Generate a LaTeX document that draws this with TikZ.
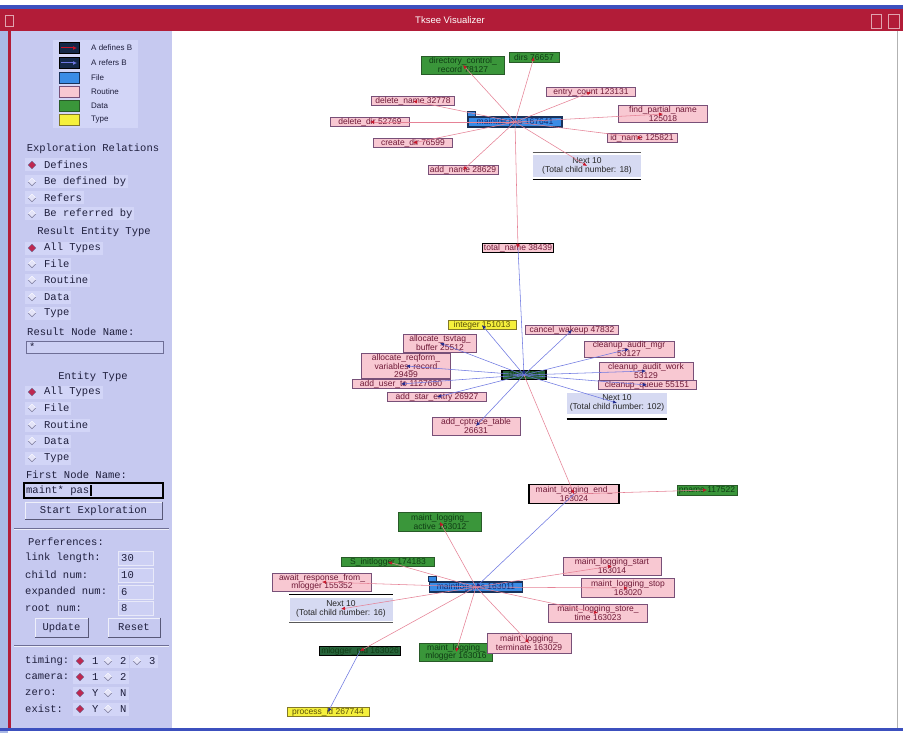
\documentclass[tikz,border=0pt]{standalone}
\usepackage{fontspec}
\setmainfont{Liberation Sans}
\newfontfamily\panelfont{Liberation Mono}
\usetikzlibrary{arrows.meta}

\definecolor{titlered}{RGB}{178,28,56}
\definecolor{frameblue}{RGB}{60,80,190}
\definecolor{framelight}{RGB}{170,185,230}
\definecolor{panelbg}{RGB}{198,201,240}
\definecolor{rowfill}{RGB}{210,213,247}
\definecolor{paneltext}{RGB}{30,30,60}
\definecolor{fieldfill}{RGB}{205,208,244}
\definecolor{radiored}{RGB}{190,40,80}
\definecolor{radiooff}{RGB}{228,228,248}
\definecolor{radioedge}{RGB}{110,110,150}
\definecolor{routinefill}{RGB}{248,200,210}
\definecolor{routineedge}{RGB}{120,80,120}
\definecolor{routinetext}{RGB}{110,25,55}
\definecolor{filefill}{RGB}{58,140,230}
\definecolor{fileedge}{RGB}{25,50,90}
\definecolor{filetext}{RGB}{20,40,110}
\definecolor{datafill}{RGB}{58,150,58}
\definecolor{dataedge}{RGB}{40,90,40}
\definecolor{datatext}{RGB}{15,60,20}
\definecolor{darkdata}{RGB}{40,100,60}
\definecolor{typefill}{RGB}{245,240,60}
\definecolor{typeedge}{RGB}{130,120,40}
\definecolor{typetext}{RGB}{90,80,10}
\definecolor{nextfill}{RGB}{214,218,242}
\definecolor{defline}{RGB}{230,130,150}
\definecolor{refline}{RGB}{110,120,225}
\definecolor{defdot}{RGB}{200,20,40}
\definecolor{refdot}{RGB}{30,40,140}

\newcommand\gn[6]{\node[#1,minimum width=#4pt,minimum height=#5pt] (#2) at (#3) {#6};}
\newcommand\radiorow[5]{%
  \node[rowitem,anchor=west] (#1) at (#2,#3) {\hspace{17pt}#5};
  \pic at (#2+7,#3) {#4};}

\begin{document}
\begin{tikzpicture}[x=1pt,y=-1pt,
  gbase/.style={draw=routineedge,line width=0.7pt,inner xsep=1.5pt,inner ysep=0.3pt,
    font=\fontsize{8.5}{8.3}\selectfont,align=center},
  routine/.style={gbase,fill=routinefill,text=routinetext},
  routinesel/.style={routine,draw=black,line width=1.3pt},
  filenode/.style={gbase,fill=filefill,draw=fileedge,line width=1.2pt,text=filetext},
  filetab/.style={fill=filefill,draw=fileedge,line width=1pt},
  datanode/.style={gbase,fill=datafill,draw=dataedge,text=datatext},
  datasel/.style={gbase,fill=darkdata,draw=black,line width=1.3pt,text=datatext},
  typenode/.style={gbase,fill=typefill,draw=typeedge,text=typetext},
  nextbox/.style={gbase,fill=nextfill,draw=none,text=black!85},
  defedge/.style={draw=defline,line width=0.55pt,-{Latex[length=4pt,width=3.5pt,color=defdot]}},
  refedge/.style={draw=refline,line width=0.55pt,-{Latex[length=4pt,width=3.5pt,color=refdot]}},
  paneltxt/.style={font=\panelfont\fontsize{10.5}{12}\selectfont,text=paneltext,inner sep=0pt},
  rowitem/.style={paneltxt,fill=rowfill,inner xsep=2pt,inner ysep=1.5pt,minimum height=13pt},
  legtxt/.style={font=\fontsize{8}{9}\selectfont,text=paneltext,inner sep=0pt,anchor=west},
  legicon/.style={minimum width=20pt,minimum height=11pt,inner sep=0pt,line width=0.8pt},
  button/.style={paneltxt,fill=panelbg,draw=white!70!panelbg,line width=1pt},
  beveldark/.style={draw=radioedge!80!black,line width=1pt},
  prefield/.style={fill=fieldfill,draw=white!60!panelbg,line width=1pt},
  radioon/.pic={\path[fill=radiored,draw=radioedge,line width=0.4pt]
     (0,-3.8)--(3.8,0)--(0,3.8)--(-3.8,0)--cycle;},
  radiooff/.pic={\path[fill=radiooff,draw=white,line width=0.4pt]
     (0,-3.8)--(3.8,0)--(0,3.8)--(-3.8,0)--cycle;
     \draw[radioedge,line width=0.6pt] (-3.8,0)--(0,3.8)--(3.8,0);},
]
\useasboundingbox (0,0) rectangle (903,733);

% window frame and title bar
\fill[white] (0,0) rectangle (903,733);
\fill[titlered] (0,9) rectangle (903,31);
\fill[frameblue] (0,5) rectangle (903,9);
\fill[framelight] (0,31) rectangle (8,733);
\fill[titlered] (8,31) rectangle (11,729);
\fill[panelbg] (11,31) rectangle (172,728);
\fill[white] (172,31) rectangle (897,728);
\draw[gray!60,line width=0.8pt] (897,31) -- (897,728);
\fill[frameblue] (0,728) rectangle (903,731);
\draw[white!60!titlered,line width=0.6pt] (5,15) rectangle (13,26);
\draw[white!60!titlered,line width=0.6pt] (871,14) rectangle (881,28);
\draw[white!60!titlered,line width=0.6pt] (888,14) rectangle (899,28);
\node[font=\fontsize{9.5}{10}\selectfont,text=white] (title) at (450,20) {Tksee Visualizer};

% legend
\fill[rowfill] (53,40) rectangle (138,128);
\node[legicon,fill=fileedge!80!black,draw=black] (lg1) at (69,48) {};
\draw[defdot,line width=1pt,-{Latex[length=4pt,width=4pt]}] (61,48) -- (77,48);
\node[legtxt] (lt1) at (91,48) {A defines B};
\node[legicon,fill=fileedge!80!black,draw=black] (lg2) at (69,63) {};
\draw[refline,line width=1pt,-{Latex[length=4pt,width=4pt]}] (61,63) -- (77,63);
\node[legtxt] (lt2) at (91,63) {A refers B};
\node[legicon,fill=filefill,draw=fileedge] (lg3) at (69,78) {};
\node[legtxt] (lt3) at (91,78) {File};
\node[legicon,fill=routinefill,draw=routineedge] (lg4) at (69,92) {};
\node[legtxt] (lt4) at (91,92) {Routine};
\node[legicon,fill=datafill,draw=dataedge] (lg5) at (69,106) {};
\node[legtxt] (lt5) at (91,106) {Data};
\node[legicon,fill=typefill,draw=typeedge] (lg6) at (69,120) {};
\node[legtxt] (lt6) at (91,120) {Type};

% exploration relations
\node[paneltxt] (hrel) at (93,149) {Exploration Relations};
\radiorow{rr1}{25}{165}{radioon}{Defines}
\radiorow{rr2}{25}{182}{radiooff}{Be defined by}
\radiorow{rr3}{25}{198}{radiooff}{Refers}
\radiorow{rr4}{25}{214}{radiooff}{Be referred by}

% result entity type
\node[paneltxt] (hres) at (94,232) {Result Entity Type};
\radiorow{rt1}{25}{248}{radioon}{All Types}
\radiorow{rt2}{25}{264}{radiooff}{File}
\radiorow{rt3}{25}{280}{radiooff}{Routine}
\radiorow{rt4}{25}{297}{radiooff}{Data}
\radiorow{rt5}{25}{313}{radiooff}{Type}

\node[paneltxt,anchor=west] (hrnn) at (27,332) {Result Node Name:};
\draw[fill=fieldfill,draw=radioedge,line width=0.8pt] (26,341) rectangle (163,353);
\node[paneltxt,anchor=west] (rnval) at (29,347) {*};

% entity type
\node[paneltxt] (hent) at (93,377) {Entity Type};
\radiorow{et1}{25}{392}{radioon}{All Types}
\radiorow{et2}{25}{408}{radiooff}{File}
\radiorow{et3}{25}{425}{radiooff}{Routine}
\radiorow{et4}{25}{441}{radiooff}{Data}
\radiorow{et5}{25}{458}{radiooff}{Type}

\node[paneltxt,anchor=west] (hfnn) at (26,475) {First Node Name:};
\draw[fill=fieldfill,draw=black,line width=1.3pt] (24,483) rectangle (163,498);
\node[paneltxt,anchor=west] (fnval) at (26,490.5) {maint* pas};
\draw[black,line width=1.2pt] ([xshift=1.5pt]fnval.north east) -- ([xshift=1.5pt]fnval.south east);

\node[button,minimum width=137pt,minimum height=17pt] (startbtn) at (93.5,510.5) {Start Exploration};
\draw[beveldark] (startbtn.north east) -- (startbtn.south east) -- (startbtn.south west);

\draw[radioedge,line width=0.8pt] (14,528) -- (169,528);
\draw[white!70!panelbg,line width=0.8pt] (14,529.5) -- (169,529.5);

% preferences
\node[paneltxt,anchor=west] (hpref) at (28,542) {Perferences:};
\node[paneltxt,anchor=west] (pl1) at (25,558) {link length:};
\draw[prefield] (118,551) rectangle (153,565);
\node[paneltxt,anchor=west] (pv1) at (121,558) {30};
\node[paneltxt,anchor=west] (pl2) at (25,575) {child num:};
\draw[prefield] (118,568) rectangle (153,582);
\node[paneltxt,anchor=west] (pv2) at (121,575) {10};
\node[paneltxt,anchor=west] (pl3) at (25,592) {expanded num:};
\draw[prefield] (118,585) rectangle (153,599);
\node[paneltxt,anchor=west] (pv3) at (121,592) {6};
\node[paneltxt,anchor=west] (pl4) at (25,608) {root num:};
\draw[prefield] (118,601) rectangle (153,615);
\node[paneltxt,anchor=west] (pv4) at (121,608) {8};

\node[button,minimum width=53pt,minimum height=19pt] (updbtn) at (61.5,627.5) {Update};
\draw[beveldark] (updbtn.north east) -- (updbtn.south east) -- (updbtn.south west);
\node[button,minimum width=52pt,minimum height=19pt] (rstbtn) at (134,627.5) {Reset};
\draw[beveldark] (rstbtn.north east) -- (rstbtn.south east) -- (rstbtn.south west);

\draw[radioedge,line width=0.8pt] (14,645) -- (169,645);
\draw[white!70!panelbg,line width=0.8pt] (14,646.5) -- (169,646.5);

% switches
\node[paneltxt,anchor=west] (sw1) at (25,661) {timing:};
\radiorow{sw1a}{73}{661}{radioon}{1}
\radiorow{sw1b}{101}{661}{radiooff}{2}
\radiorow{sw1c}{130}{661}{radiooff}{3}
\node[paneltxt,anchor=west] (sw2) at (25,677) {camera:};
\radiorow{sw2a}{73}{677}{radioon}{1}
\radiorow{sw2b}{101}{677}{radiooff}{2}
\node[paneltxt,anchor=west] (sw3) at (25,693) {zero:};
\radiorow{sw3a}{73}{693}{radioon}{Y}
\radiorow{sw3b}{101}{693}{radiooff}{N}
\node[paneltxt,anchor=west] (sw4) at (25,709) {exist:};
\radiorow{sw4a}{73}{709}{radioon}{Y}
\radiorow{sw4b}{101}{709}{radiooff}{N}

% ---------------- graph: upper file cluster
\gn{filenode}{tf}{515,122}{94}{10}{maintdir.pas 167641}
\draw[filetab] (tf.north west) rectangle ++(8,-5);
\gn{datanode}{g1}{463,65}{83}{18}{directory\_control\_\\record 78127}
\gn{datanode}{g2}{534,57}{50}{10}{dirs 76657}
\gn{routine}{r1}{413,101}{83}{9}{delete\_name 32778}
\gn{routine}{r2}{370,122}{79}{9}{delete\_dir 52769}
\gn{routine}{r3}{413,143}{79}{9}{create\_dir 76599}
\gn{routine}{r4}{463,170}{70}{9}{add\_name 28629}
\gn{routine}{r5}{591,92}{89}{9}{entry\_count 123131}
\gn{routine}{r6}{663,114}{89}{17}{find\_partial\_name\\125018}
\gn{routine}{r7}{642,138}{70}{9}{id\_name 125821}
\gn{nextbox}{n1}{587,166}{108}{22}{Next 10\\(Total child number: 18)}
\draw[gray!70!black,line width=1pt] ([yshift=2pt]n1.north west) -- ([yshift=2pt]n1.north east);
\draw[black,line width=1.3pt] ([yshift=-2pt]n1.south west) -- ([yshift=-2pt]n1.south east);

% ---------------- middle data cluster
\gn{routinesel}{tn}{518,248}{70}{9}{total\_name 38439}
\gn{datasel}{cn}{524,375}{44}{9}{grp\_stat}
\gn{typenode}{it}{482,325}{68}{9}{integer 151013}
\gn{routine}{m1}{572,330}{93}{9}{cancel\_wakeup 47832}
\gn{routine}{m2}{440,343}{73}{18}{allocate\_tsvtag\_\\buffer 25512}
\gn{routine}{m3}{406,366}{89}{25}{allocate\_reqform\_\\variables\_record\\29499}
\gn{routine}{m4}{401,384}{98}{9}{add\_user\_to 1127680}
\gn{routine}{m5}{437,397}{99}{9}{add\_star\_entry 26927}
\gn{routine}{m6}{476,426}{88}{18}{add\_cptrace\_table\\26631}
\gn{routine}{m7}{629,349}{90}{16}{cleanup\_audit\_mgr\\53127}
\gn{routine}{m8}{646,371}{94}{18}{cleanup\_audit\_work\\53129}
\gn{routine}{m9}{647,385}{98}{9}{cleanup\_queue 55151}
\gn{nextbox}{n2}{617,403}{100}{21}{Next 10\\(Total child number: 102)}
\draw[black,line width=1.3pt] ([yshift=-5pt]n2.south west) -- ([yshift=-5pt]n2.south east);

% ---------------- lower file cluster
\gn{routinesel}{le}{574,494}{90}{19}{maint\_logging\_end\_\\163024}
\gn{datanode}{pn}{707,490}{60}{10}{pname 117522}
\gn{filenode}{bf}{476,587}{93}{10}{maintlog.pas 163011}
\draw[filetab] (bf.north west) rectangle ++(8,-5);
\gn{datanode}{b1}{440,522}{83}{19}{maint\_logging\_\\active 163012}
\gn{datanode}{b2}{388,562}{93}{9}{S\_initlogger 174183}
\gn{routine}{b3}{322,582}{99}{18}{await\_response\_from\_\\mlogger 155352}
\gn{nextbox}{n3}{341,609}{103}{23}{Next 10\\(Total child number: 16)}
\draw[black,line width=1.3pt] ([yshift=3pt]n3.north west) -- ([yshift=3pt]n3.north east);
\draw[gray!70!black,line width=1pt] ([yshift=-2pt]n3.south west) -- ([yshift=-2pt]n3.south east);
\gn{datasel}{b4}{360,651}{74}{9}{mlogger\_pid 163026}
\gn{datanode}{b5}{456,652}{73}{18}{maint\_logging\_\\mlogger 163016}
\gn{routine}{b6}{529,643}{84}{20}{maint\_logging\_\\terminate 163029}
\gn{routine}{b7}{612,566}{98}{18}{maint\_logging\_start\\163014}
\gn{routine}{b8}{628,588}{93}{19}{maint\_logging\_stop\\163020}
\gn{routine}{b9}{598,613}{99}{18}{maint\_logging\_store\_\\time 163023}
\gn{typenode}{pr}{328,712}{82}{9}{process\_id 267744}

% ---------------- connectors
\foreach \c in {g1,g2,r1,r2,r3,r4,r5,r6,r7,n1,tn}
  \draw[defedge] (tf.center) -- (\c.center);
\draw[refedge] (tn.center) -- (cn.center);
\foreach \c in {it,m1,m2,m3,m4,m5,m6,m7,m8,m9,n2}
  \draw[refedge] (cn.center) -- (\c.center);
\draw[defedge] (cn.center) -- (le.center);
\draw[refedge] (le.center) -- (bf.center);
\draw[defedge] (le.center) -- (pn.center);
\foreach \c in {b1,b2,b3,n3,b4,b5,b6,b7,b8,b9}
  \draw[defedge] (bf.center) -- (\c.center);
\draw[refedge] (b4.center) -- (pr.center);
\end{tikzpicture}
\end{document}
